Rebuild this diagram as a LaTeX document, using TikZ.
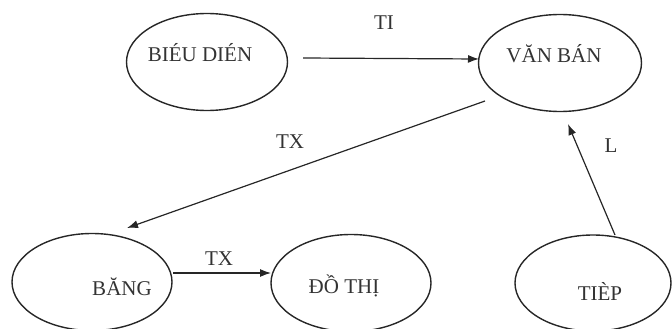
\documentclass[tikz,border=0pt]{standalone}
\usepackage{fontspec}
\setmainfont{Liberation Serif}
\usetikzlibrary{shapes.geometric,arrows.meta}
\begin{document}
\begin{tikzpicture}[x=1pt,y=-1pt,
  bubble/.style={draw=black!85,line width=1.4pt,ellipse,minimum width=#1,minimum height=97pt,inner sep=0pt},
  link/.style={draw=black!85,line width=1.2pt,-{Latex[length=11pt,width=8pt]}},
  word/.style={font=\fontsize{21}{24}\selectfont,text=black!80,anchor=base,inner sep=0pt},
  tag/.style={font=\fontsize{21}{24}\selectfont,text=black!80,anchor=base,inner sep=0pt}]
\useasboundingbox (0,0) rectangle (672,329);
% states
\node[bubble=161pt] (bd) at (207,62) {};
\node[bubble=163pt] (vb) at (560,63) {};
\node[bubble=160pt] (bg) at (92,282) {};
\node[bubble=160pt] (dt) at (351,283) {};
\node[bubble=156pt,minimum height=96pt] (tp) at (593,283) {};
% labels inside the states
\node[word] (bdt) at (200,62) {BIÉU DIÉN};
\node[word] (vbt) at (554,63) {VĂN BÁN};
\node[word] (bgt) at (122,295) {BĂNG};
\node[word] (dtt) at (344,293) {ĐỒ THỊ};
\node[word] (tpt) at (600,300) {TIÈP};
% transitions
\coordinate (a1) at (303,58);
\coordinate (a2) at (479,59);
\draw[link] (a1) -- (a2);
\coordinate (b1) at (485,101);
\coordinate (b2) at (127,228);
\draw[link] (b1) -- (b2);
\coordinate (c1) at (173,273);
\coordinate (c2) at (271,273);
\draw[link] (c1) -- (c2);
\coordinate (d1) at (615,235);
\coordinate (d2) at (568,124);
\draw[link] (d1) -- (d2);
% transition labels
\node[tag] (ti) at (384,30) {TI};
\node[tag] (tx1) at (290,148) {TX};
\node[tag] (tx2) at (219,265) {TX};
\node[tag] (l) at (611,152) {L};
\end{tikzpicture}
\end{document}
